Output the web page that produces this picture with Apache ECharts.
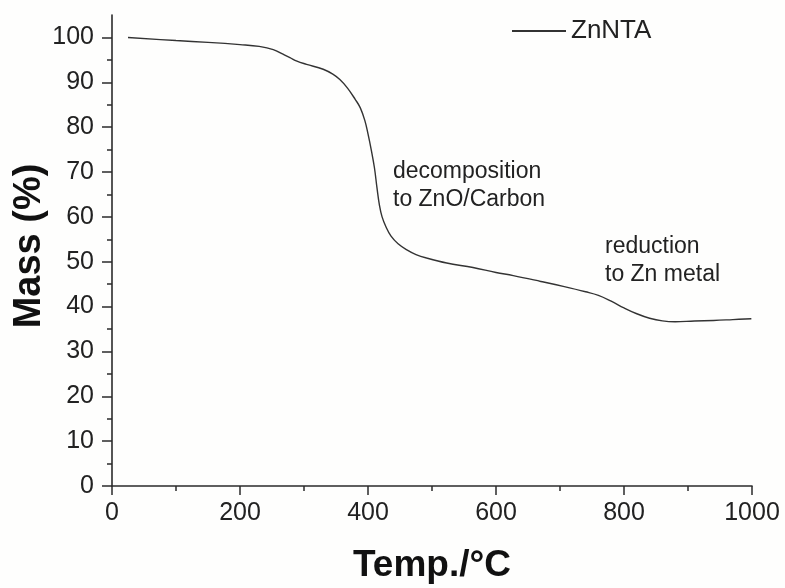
<!DOCTYPE html>
<html>
<head>
<meta charset="UTF-8">
<title>ZnNTA TGA</title>
<script src="https://cdn.jsdelivr.net/npm/echarts@6/dist/echarts.min.js"></script>
<style>
  html, body { margin: 0; padding: 0; background: #fefefd; }
  #chart { width: 785px; height: 588px; }
</style>
</head>
<body>
<div id="chart"></div>
<script type="text/javascript">
// temperature (°C) and mass (%)
var temps = [25, 100, 150, 200, 230, 252, 268, 278, 289, 304, 330, 345, 356, 368, 380, 388, 395, 400, 405,
  410, 414, 418, 422, 428, 436, 447, 460, 475, 492, 523, 564, 600, 627, 670, 705, 740, 760, 780, 800, 820, 840, 860,
  880, 910, 940, 970, 999];
var mass = [100, 99.3, 98.9, 98.4, 98.0, 97.3, 96.2, 95.5, 94.7, 94.0, 92.9, 91.8, 90.6, 88.7, 86.2, 84.3, 81.5, 78.5, 75.0,
  71.0, 66.5, 62.5, 60.0, 57.8, 55.7, 54.0, 52.7, 51.6, 50.8, 49.7, 48.7, 47.6, 46.9, 45.6, 44.5, 43.3, 42.5, 41.2, 39.7, 38.4, 37.4, 36.8,
  36.6, 36.8, 36.9, 37.1, 37.3];
var seriesName = 'ZnNTA';
var xTicks = [0, 200, 400, 600, 800, 1000];
var yMajor = [0, 10, 20, 30, 40, 50, 60, 70, 80, 90, 100];
var yMinor = [5, 15, 25, 35, 45, 55, 65, 75, 85, 95];
var notes = [
  { lines: ['decomposition', 'to ZnO/Carbon'], x: 393, y: 158 },
  { lines: ['reduction', 'to Zn metal'], x: 605, y: 233 }
];

var pts = [];
for (var i = 0; i < temps.length; i++) {
  pts.push([temps[i], mass[i]]);
}

var axisCol = '#2b2b2b';
var txtCol = '#222';
var font = 'Liberation Sans, Arial, sans-serif';

var myChart = echarts.init(document.getElementById('chart'));
var option = {
  backgroundColor: '#fefefd',
  animation: false,
  grid: { left: 112, right: 33, top: 15, bottom: 102, containLabel: false, outerBoundsMode: 'none' },
  legend: {
    data: [seriesName],
    left: 507, top: 13,
    itemWidth: 54, itemHeight: 2, itemGap: 6,
    icon: 'rect',
    textStyle: { fontSize: 26, color: txtCol, fontFamily: font }
  },
  xAxis: {
    type: 'value', min: 0, max: 1000, interval: 200,
    name: 'Temp./°C', nameLocation: 'middle', nameGap: 61,
    nameTextStyle: { fontSize: 37, fontWeight: 'bold', color: '#111', fontFamily: font },
    axisLine: { lineStyle: { color: axisCol, width: 1.6 } },
    axisTick: { inside: false, length: 9, customValues: xTicks, lineStyle: { color: axisCol, width: 1.5 } },
    minorTick: { show: true, splitNumber: 2, length: 5, lineStyle: { color: axisCol, width: 1.5 } },
    axisLabel: {
      fontSize: 25, color: txtCol, margin: 15, fontFamily: font, customValues: xTicks,
      formatter: function (v) { return String(v); }
    },
    splitLine: { show: false }
  },
  yAxis: [{
    type: 'value', min: 0, max: 105,
    name: 'Mass (%)', nameLocation: 'middle', nameGap: 63, nameMoveOverlap: false,
    nameTextStyle: { fontSize: 38, fontWeight: 'bold', color: '#111', fontFamily: font, padding: [0, 0, 0, 9] },
    axisLine: { show: true, lineStyle: { color: axisCol, width: 1.6 } },
    axisTick: { show: true, length: 10, customValues: yMajor, lineStyle: { color: axisCol, width: 1.5 } },
    axisLabel: { fontSize: 25, color: txtCol, margin: 18, customValues: yMajor, fontFamily: font },
    splitLine: { show: false }
  }, {
    type: 'value', min: 0, max: 105, position: 'left',
    axisLine: { show: false },
    axisTick: { show: true, length: 5, customValues: yMinor, lineStyle: { color: axisCol, width: 1.5 } },
    axisLabel: { show: false },
    splitLine: { show: false }
  }],
  graphic: notes.map(function (n) {
    return {
      type: 'text', left: n.x, top: n.y,
      style: { text: n.lines.join('\n'), fontSize: 23, lineHeight: 28, fill: txtCol, fontFamily: font }
    };
  }),
  series: [{
    name: seriesName,
    type: 'line',
    data: pts,
    smooth: 0.4,
    symbol: 'none',
    lineStyle: { color: '#333', width: 1.4 },
    itemStyle: { color: '#333' }
  }]
};
myChart.setOption(option);
</script>
</body>
</html>
